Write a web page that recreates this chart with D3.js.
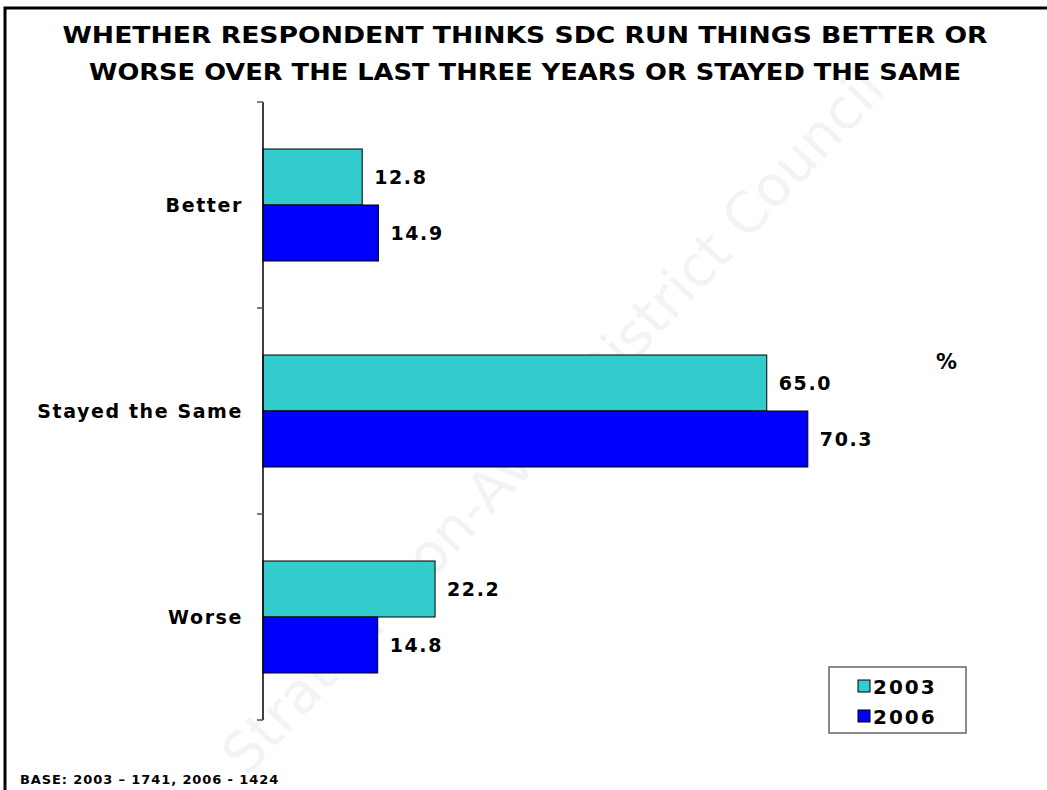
<!DOCTYPE html>
<html>
<head>
<meta charset="utf-8">
<script src="https://cdn.jsdelivr.net/npm/d3@7/dist/d3.min.js"></script>
<style>
  html, body { margin: 0; padding: 0; background: #fff; }
  svg { display: block; }
  text { font-family: Verdana, "DejaVu Sans", sans-serif; }
</style>
</head>
<body>
<svg id="chart" width="1047" height="790"></svg>
<script>
// Survey results: whether SDC runs things better/worse over three years
const categories = ["Better", "Stayed the Same", "Worse"];
const seriesNames = ["2003", "2006"];
const values2003 = [12.8, 65.0, 22.2];
const values2006 = [14.9, 70.3, 14.8];
const seriesColors = ["#33CCCC", "#0000FF"];
const titleLines = [
  "WHETHER RESPONDENT THINKS SDC RUN THINGS BETTER OR",
  "WORSE OVER THE LAST THREE YEARS OR STAYED THE SAME"
];
const baseNote = "BASE: 2003 \u2013 1741, 2006 - 1424";
const watermark = "Stratford-on-Avon District Council";

const svg = d3.select("#chart");

// Watermark behind everything
svg.append("text")
  .attr("transform", "translate(556,424) rotate(-47)")
  .attr("text-anchor", "middle")
  .attr("dominant-baseline", "middle")
  .style("font-size", "56px")
  .attr("fill", "#f3f3f3")
  .text(watermark);

// Frame lines (top and left)
svg.append("path")
  .attr("d", "M5,1047 L5,8 L1047,8")
  .attr("fill", "none")
  .attr("stroke", "#000")
  .attr("stroke-width", 3);

// Title
svg.selectAll("text.title")
  .data(titleLines)
  .join("text")
  .attr("class", "title")
  .attr("x", 525)
  .attr("y", (d, i) => 43 + i * 37)
  .attr("text-anchor", "middle")
  .style("font-size", "23px")
  .style("font-weight", "bold")
  .attr("textLength", (d, i) => i === 0 ? 925 : 872)
  .attr("lengthAdjust", "spacingAndGlyphs")
  .text(d => d);

// Scales
const x = d3.scaleLinear().domain([0, 80]).range([263, 263 + 7.75 * 80]);
const y = d3.scaleBand().domain(categories).range([102, 720])
  .paddingInner(0.4563).paddingOuter(0.4563 / 2);
const ySub = d3.scaleBand().domain(seriesNames).range([0, y.bandwidth()]);

const rows = categories.map((c, i) => ({
  category: c,
  bars: [
    { series: "2003", value: values2003[i] },
    { series: "2006", value: values2006[i] }
  ]
}));
const color = d3.scaleOrdinal().domain(seriesNames).range(seriesColors);

// Bars
const groups = svg.selectAll("g.cat")
  .data(rows)
  .join("g")
  .attr("class", "cat")
  .attr("transform", d => `translate(0,${y(d.category)})`);

groups.selectAll("rect")
  .data(d => d.bars)
  .join("rect")
  .attr("x", x(0))
  .attr("y", d => ySub(d.series))
  .attr("width", d => x(d.value) - x(0))
  .attr("height", ySub.bandwidth())
  .attr("fill", d => color(d.series))
  .attr("stroke", "#000")
  .attr("stroke-width", 1);

// Value labels
groups.selectAll("text.val")
  .data(d => d.bars)
  .join("text")
  .attr("class", "val")
  .attr("x", d => x(d.value) + 12)
  .attr("y", d => ySub(d.series) + ySub.bandwidth() / 2 + 7)
  .style("font-size", "19px")
  .style("font-weight", "bold")
  .style("letter-spacing", "1.6px")
  .text(d => d.value.toFixed(1));

// Category axis: line with ticks at band boundaries
const axisG = svg.append("g");
const [y0, y1] = y.range();
axisG.append("line")
  .attr("x1", x(0)).attr("x2", x(0))
  .attr("y1", y0).attr("y2", y1)
  .attr("stroke", "#000").attr("stroke-width", 1.5);
const boundaries = d3.range(categories.length + 1).map(i => y0 + i * y.step());
axisG.selectAll("line.tick")
  .data(boundaries)
  .join("line")
  .attr("class", "tick")
  .attr("x1", x(0) - 6).attr("x2", x(0))
  .attr("y1", d => d).attr("y2", d => d)
  .attr("stroke", "#555").attr("stroke-width", 1.5);

// Category labels
svg.selectAll("text.cat")
  .data(categories)
  .join("text")
  .attr("class", "cat")
  .attr("x", 243)
  .attr("y", d => y(d) + y.bandwidth() / 2 + 7)
  .attr("text-anchor", "end")
  .style("font-size", "19px")
  .style("font-weight", "bold")
  .style("letter-spacing", "1.6px")
  .text(d => d);

// Unit marker
svg.append("text")
  .attr("x", 936).attr("y", 369)
  .style("font-size", "21px")
  .style("font-weight", "bold")
  .text("%");

// Legend
const legend = svg.append("g").attr("transform", "translate(829,667)");
legend.append("rect")
  .attr("x", 0).attr("y", 0).attr("width", 137).attr("height", 66)
  .attr("fill", "#fff").attr("stroke", "#666").attr("stroke-width", 1.5);
const items = legend.selectAll("g.item")
  .data(seriesNames)
  .join("g")
  .attr("class", "item")
  .attr("transform", (d, i) => `translate(0,${13 + i * 30})`);
items.append("rect")
  .attr("x", 29).attr("y", 0).attr("width", 12).attr("height", 12)
  .attr("fill", d => color(d)).attr("stroke", "#000").attr("stroke-width", 1);
items.append("text")
  .attr("x", 44).attr("y", 14)
  .style("font-size", "20px")
  .style("font-weight", "bold")
  .style("letter-spacing", "2px")
  .text(d => d);

// Base note
svg.append("text")
  .attr("x", 20).attr("y", 784)
  .style("font-size", "13px")
  .style("font-weight", "bold")
  .style("letter-spacing", "0.9px")
  .text(baseNote);
</script>
</body>
</html>
